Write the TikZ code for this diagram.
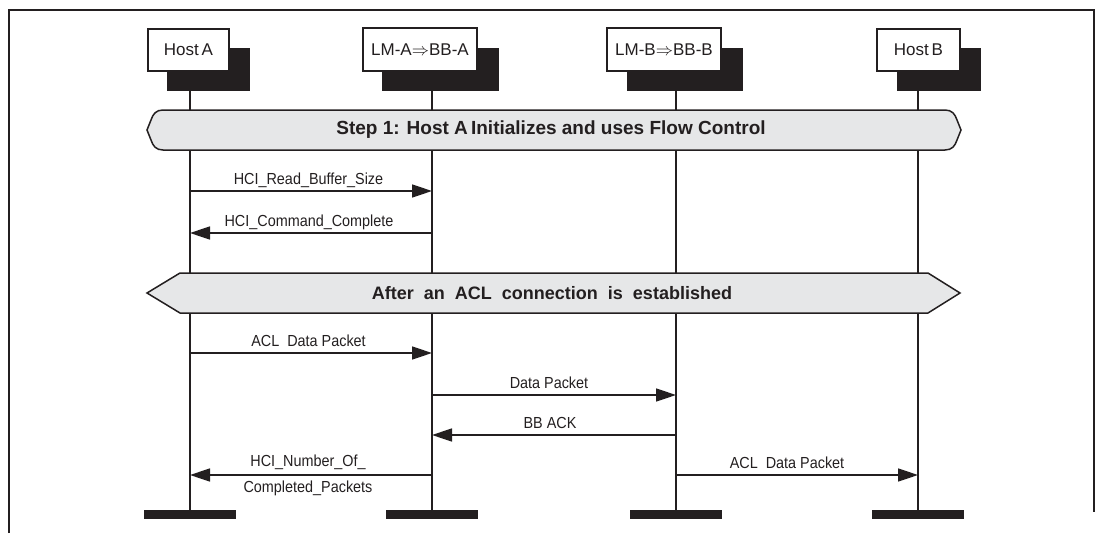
\documentclass[tikz,border=0pt]{standalone}
\usepackage{fontspec}
\setmainfont{Liberation Sans}
\newfontfamily\msgfont{Liberation Sans}[FakeStretch=0.9]
\usetikzlibrary{arrows.meta}
\definecolor{ink}{HTML}{231F20}
\definecolor{band}{HTML}{E6E7E8}
\tikzset{
  frameline/.style={line width=2.8pt, draw=ink},
  lifeline/.style={line width=1.6pt, draw=ink},
  shadowbox/.style={fill=ink, draw=none},
  headbox/.style={draw=ink, fill=white, line width=1.4pt},
  headtext/.style={text=ink, font=\fontsize{17}{20}\selectfont, inner sep=0pt},
  bandshape/.style={draw=ink, fill=band, line width=1.5pt},
  bandtext/.style={text=ink, font=\fontsize{18}{21}\selectfont\bfseries, inner sep=0pt},
  msg/.style={line width=1.6pt, draw=ink, -{Triangle[length=20pt,width=13pt]}},
  msgtext/.style={text=ink, font=\msgfont\fontsize{16}{19}\selectfont, inner sep=0pt, anchor=base},
  endbar/.style={fill=ink, draw=none}
}
\begin{document}
\begin{tikzpicture}[x=1pt,y=-1pt]
\useasboundingbox (0,0) rectangle (1106,533);
% frame
\draw[frameline] (9,533) -- (9,10) -- (1094,10) -- (1094,512);
% lifeline tops and bottoms
\foreach \n/\x in {ha/190, la/432, lb/676, hb/918}{
  \coordinate (\n top) at (\x,91);
  \coordinate (\n bot) at (\x,510);
}
\foreach \n in {ha,la,lb,hb}{
  \draw[lifeline] (\n top) -- (\n bot);
}
% header boxes
\fill[shadowbox] (167,48) rectangle (250,91);
\draw[headbox] (148,29) rectangle (229,71);
\node[headtext] (hA) at (188.5,50) {Host\,A};
\fill[shadowbox] (382,48) rectangle (499,91);
\draw[headbox] (363,28) rectangle (477,71);
\node[headtext] (hLA) at (420,50) {LM-A$\Rightarrow$BB-A};
\fill[shadowbox] (627,48) rectangle (743,91);
\draw[headbox] (607,28) rectangle (721,71);
\node[headtext] (hLB) at (664,50) {LM-B$\Rightarrow$BB-B};
\fill[shadowbox] (897,48) rectangle (981,91);
\draw[headbox] (877,29) rectangle (960,71);
\node[headtext] (hB) at (918.5,50) {Host\,B};
% end bars
\foreach \n in {ha,la,lb,hb}{
  \fill[endbar] ([xshift=-46pt]\n bot) rectangle ([xshift=46pt,yshift=-9pt]\n bot);
}
% band 1
\draw[bandshape] (163,110) -- (945,110) .. controls (952,110) and (955,114) .. (957,120) -- (961,130) -- (957,140) .. controls (955,146) and (952,150) .. (945,150) -- (163,150) .. controls (156,150) and (153,146) .. (151,140) -- (147,130) -- (151,120) .. controls (153,114) and (156,110) .. (163,110) -- cycle;
\node[bandtext, font=\fontsize{19}{22}\selectfont\bfseries] (b1) at (551,130) {Step 1: Host A\,Initializes and uses Flow Control};
% band 2
\draw[bandshape] (180,273) -- (928,273) -- (960,293) -- (928,313) -- (180,313) -- (147,293) -- cycle;
\node[bandtext] (b2) at (552,293) {After\ \ an\ \ ACL\ \ connection\ \ is\ \ established};
% message end points
\coordinate (m1a) at (190,191); \coordinate (m1b) at (432,191);
\coordinate (m2a) at (190,233); \coordinate (m2b) at (432,233);
\coordinate (m3a) at (190,353); \coordinate (m3b) at (432,353);
\coordinate (m4a) at (432,395); \coordinate (m4b) at (676,395);
\coordinate (m5a) at (432,435); \coordinate (m5b) at (676,435);
\coordinate (m6a) at (190,475); \coordinate (m6b) at (432,475);
\coordinate (m7a) at (676,475); \coordinate (m7b) at (918,475);
% messages
\draw[msg] (m1a) -- (m1b);
\node[msgtext] (t1) at (308.5,184) {HCI\_Read\_Buffer\_Size};
\draw[msg] (m2b) -- (m2a);
\node[msgtext] (t2) at (309,226) {HCI\_Command\_Complete};
\draw[msg] (m3a) -- (m3b);
\node[msgtext] (t3) at (308.5,346) {ACL\ \ Data Packet};
\draw[msg] (m4a) -- (m4b);
\node[msgtext] (t4) at (549,388) {Data Packet};
\draw[msg] (m5b) -- (m5a);
\node[msgtext] (t5) at (550,428) {BB ACK};
\draw[msg] (m6b) -- (m6a);
\node[msgtext] (t6a) at (308,466) {HCI\_Number\_Of\_};
\node[msgtext] (t6b) at (308,492) {Completed\_Packets};
\draw[msg] (m7a) -- (m7b);
\node[msgtext] (t7) at (787,468) {ACL\ \ Data Packet};
\end{tikzpicture}
\end{document}
